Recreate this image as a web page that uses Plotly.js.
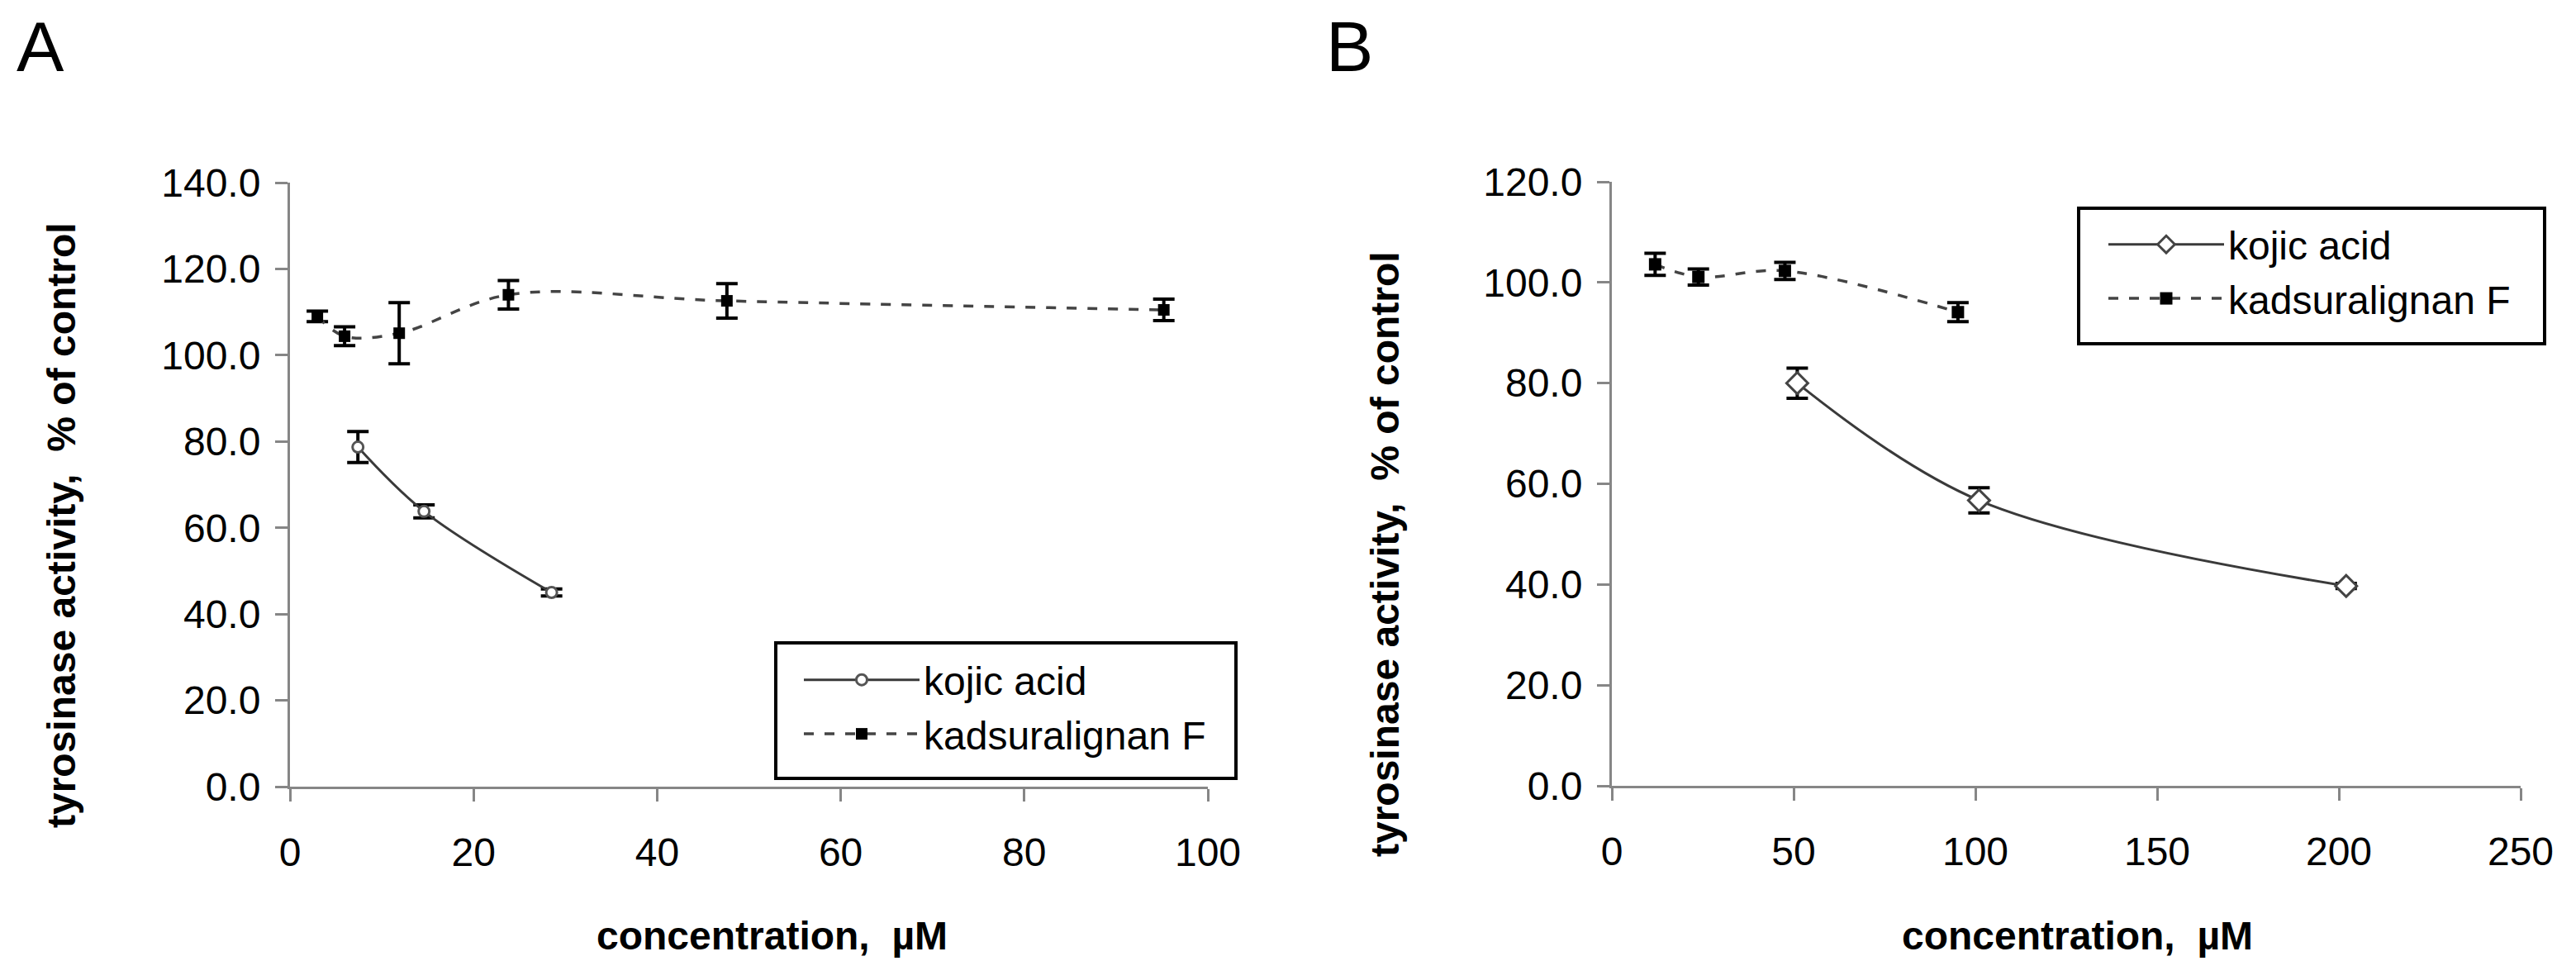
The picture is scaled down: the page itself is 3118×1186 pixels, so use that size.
<!DOCTYPE html>
<html>
<head>
<meta charset="utf-8">
<script src="https://cdn.plot.ly/plotly-3.0.1.min.js"></script>
<style>
html,body{margin:0;padding:0;background:#fff;}
#chart{width:3118px;height:1186px;}
</style>
</head>
<body>
<div id="chart"></div>
<script>
// ---- Data ----
// Panel A
const kojicA_x = [7.4, 14.6, 28.5];
const kojicA_y = [78.7, 63.8, 45.0];
const kojicA_err = [3.6, 1.5, 0.8];

const kadsA_x = [2.98, 5.95, 11.9, 23.8, 47.6, 95.2];
const kadsA_y = [109.0, 104.4, 105.1, 114.0, 112.6, 110.5];
const kadsA_err = [1.2, 2.2, 7.1, 3.3, 4.0, 2.5];

// Panel B
const kojicB_x = [51, 101, 202];
const kojicB_y = [80.0, 56.7, 39.7];
const kojicB_err = [3.0, 2.5, 0.5];

const kadsB_x = [11.9, 23.8, 47.6, 95.2];
const kadsB_y = [103.6, 101.1, 102.3, 94.1];
const kadsB_err = [2.2, 1.6, 1.7, 1.9];

const seriesNames = ["kojic acid", "kadsuralignan F"];
const xTitle = "concentration,\u00a0 µM";
const yTitle = "tyrosinase activity,\u00a0 % of control";
const panelLabels = ["A", "B"];

// ---- Styling ----
const FONT = "Liberation Sans, Arial, sans-serif";
const W = 3118, H = 1186;
const px = v => v / W;
const py = v => 1 - v / H;

function errBar(arr) {
  return {type: 'data', array: arr, visible: true, color: '#000', thickness: 4, width: 13};
}

const traces = [
  {
    x: kojicA_x, y: kojicA_y, name: seriesNames[0], type: 'scatter', mode: 'lines+markers',
    xaxis: 'x', yaxis: 'y', legend: 'legend', legendgroup: 'a1',
    line: {color: '#3a3a3a', width: 3, shape: 'spline', smoothing: 1},
    marker: {symbol: 'circle', size: 13, color: '#fff', line: {color: '#555', width: 3}},
    error_y: errBar(kojicA_err)
  },
  {
    x: kadsA_x, y: kadsA_y, name: seriesNames[1], type: 'scatter', mode: 'lines+markers',
    xaxis: 'x', yaxis: 'y', legend: 'legend', legendgroup: 'a2',
    line: {color: '#444', width: 3.5, dash: '12px,13px', shape: 'spline', smoothing: 1},
    marker: {symbol: 'square', size: 14, color: '#000'},
    error_y: errBar(kadsA_err)
  },
  {
    x: kojicB_x, y: kojicB_y, name: seriesNames[0], type: 'scatter', mode: 'lines+markers',
    xaxis: 'x2', yaxis: 'y2', legend: 'legend2', legendgroup: 'b1',
    line: {color: '#3a3a3a', width: 3, shape: 'spline', smoothing: 1},
    marker: {symbol: 'diamond', size: 20, color: '#fff', line: {color: '#444', width: 3}},
    error_y: errBar(kojicB_err)
  },
  {
    x: kadsB_x, y: kadsB_y, name: seriesNames[1], type: 'scatter', mode: 'lines+markers',
    xaxis: 'x2', yaxis: 'y2', legend: 'legend2', legendgroup: 'b2',
    line: {color: '#444', width: 3.5, dash: '12px,13px', shape: 'spline', smoothing: 1},
    marker: {symbol: 'square', size: 15, color: '#000'},
    error_y: errBar(kadsB_err)
  }
];

const axisCommon = {
  showgrid: false, zeroline: false, showline: true, linecolor: '#868686', linewidth: 3,
  ticks: 'outside', ticklen: 15, tickwidth: 3, tickcolor: '#868686',
  tickfont: {family: FONT, size: 48, color: '#000'}, fixedrange: true
};

const legendCommon = {
  xanchor: 'left', yanchor: 'top',
  bgcolor: 'rgba(0,0,0,0)', borderwidth: 0,
  font: {family: FONT, size: 48, color: '#000'},
  itemwidth: 140, tracegroupgap: 23, traceorder: 'normal'
};

function boxShape(x0, x1, y0, y1) {
  return {type: 'rect', xref: 'paper', yref: 'paper', x0: px(x0), x1: px(x1), y0: py(y1), y1: py(y0),
          line: {color: '#000', width: 4}, fillcolor: '#fff', layer: 'above'};
}

const layout = {
  width: W, height: H, autosize: false,
  margin: {l: 0, r: 0, t: 0, b: 0, pad: 0},
  paper_bgcolor: '#fff', plot_bgcolor: '#fff',
  font: {family: FONT, size: 48, color: '#000'},
  xaxis: Object.assign({}, axisCommon, {domain: [px(351), px(1462)], range: [0, 100], dtick: 20, tick0: 0, anchor: 'y', ticklabelstandoff: 20}),
  yaxis: Object.assign({}, axisCommon, {domain: [py(952), py(221)], range: [0, 140], dtick: 20, tick0: 0, tickformat: '.1f', anchor: 'x', ticklabelstandoff: 8}),
  xaxis2: Object.assign({}, axisCommon, {domain: [px(1951), px(3051)], range: [0, 250], dtick: 50, tick0: 0, anchor: 'y2', ticklabelstandoff: 20}),
  yaxis2: Object.assign({}, axisCommon, {domain: [py(951), py(220)], range: [0, 120], dtick: 20, tick0: 0, tickformat: '.1f', anchor: 'x2', ticklabelstandoff: 8}),
  legend: Object.assign({}, legendCommon, {x: px(968), y: py(785)}),
  legend2: Object.assign({}, legendCommon, {x: px(2547), y: py(258)}),
  shapes: [
    boxShape(939, 1496, 778, 942),
    boxShape(2516, 3080, 252, 416)
  ],
  annotations: [
    {text: panelLabels[0], xref: 'paper', yref: 'paper', x: px(18), y: py(6), xanchor: 'left', yanchor: 'top', showarrow: false, font: {family: FONT, size: 86, color: '#000'}},
    {text: panelLabels[1], xref: 'paper', yref: 'paper', x: px(1603), y: py(6), xanchor: 'left', yanchor: 'top', showarrow: false, font: {family: FONT, size: 86, color: '#000'}},
    {text: '<b>' + xTitle + '</b>', xref: 'paper', yref: 'paper', x: px(935), y: py(1132), xanchor: 'center', yanchor: 'middle', showarrow: false, font: {family: FONT, size: 48, color: '#000'}},
    {text: '<b>' + xTitle + '</b>', xref: 'paper', yref: 'paper', x: px(2514), y: py(1132), xanchor: 'center', yanchor: 'middle', showarrow: false, font: {family: FONT, size: 48, color: '#000'}},
    {text: '<b>' + yTitle + '</b>', xref: 'paper', yref: 'paper', x: px(74), y: py(636), xanchor: 'center', yanchor: 'middle', textangle: -90, showarrow: false, font: {family: FONT, size: 48, color: '#000'}},
    {text: '<b>' + yTitle + '</b>', xref: 'paper', yref: 'paper', x: px(1676), y: py(671), xanchor: 'center', yanchor: 'middle', textangle: -90, showarrow: false, font: {family: FONT, size: 48, color: '#000'}}
  ]
};

Plotly.newPlot('chart', traces, layout, {staticPlot: true, displayModeBar: false});
</script>
</body>
</html>
